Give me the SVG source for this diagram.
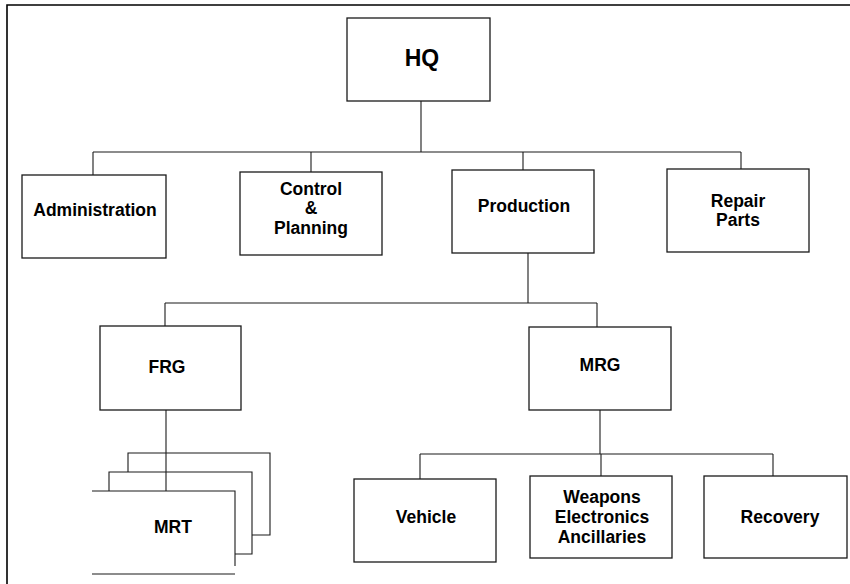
<svg xmlns="http://www.w3.org/2000/svg" width="850" height="584" viewBox="0 0 850 584">
<style>
.box{fill:#fff;stroke:#1a1a1a;stroke-width:1.3}
.ln{fill:none;stroke:#1a1a1a;stroke-width:1.1}
.t{font-family:"Liberation Sans",Arial,sans-serif;font-weight:bold;font-size:17.5px;fill:#000;text-anchor:middle}
.hq{font-size:23px}
</style>
<rect width="850" height="584" fill="#fff"/>
<path d="M7,584 V5 H850" fill="none" stroke="#000" stroke-width="1.6"/>
<g id="connectors">
<path class="ln" d="M421,101 V152"/>
<path class="ln" d="M93,152 H741"/>
<path class="ln" d="M93,152 V175"/>
<path class="ln" d="M311,152 V172"/>
<path class="ln" d="M523,152 V170"/>
<path class="ln" d="M741,152 V169"/>
<path class="ln" d="M528,253 V303"/>
<path class="ln" d="M165,303 H597"/>
<path class="ln" d="M165,303 V326"/>
<path class="ln" d="M597,303 V327"/>
<path class="ln" d="M166,410 V491"/>
<path class="ln" d="M600,410 V454"/>
<path class="ln" d="M420,454 H773"/>
<path class="ln" d="M420,454 V479"/>
<path class="ln" d="M601,454 V476"/>
<path class="ln" d="M773,454 V476"/>
</g>
<g id="hq"><rect class="box" x="347" y="18" width="143" height="83"/><text class="t hq" x="422" y="66">HQ</text></g>
<g id="administration"><rect class="box" x="22" y="175" width="144" height="83"/><text class="t" x="95" y="216">Administration</text></g>
<g id="control-planning"><rect class="box" x="240" y="172" width="142" height="83"/><text class="t" x="311" y="195">Control</text><text class="t" x="311" y="214">&amp;</text><text class="t" x="311" y="234">Planning</text></g>
<g id="production"><rect class="box" x="452" y="170" width="142" height="83"/><text class="t" x="524" y="212">Production</text></g>
<g id="repair-parts"><rect class="box" x="667" y="169" width="142" height="83"/><text class="t" x="738" y="207">Repair</text><text class="t" x="738" y="226">Parts</text></g>
<g id="frg"><rect class="box" x="100" y="326" width="141" height="84"/><text class="t" x="167" y="373">FRG</text></g>
<g id="mrg"><rect class="box" x="529" y="327" width="142" height="83"/><text class="t" x="600" y="371">MRG</text></g>
<g id="mrt">
<path class="ln" d="M128,472 V453 H270 V535 H252"/>
<path class="ln" d="M109,491 V472 H252 V554 H235"/>
<path class="ln" d="M92,491 H235 V566"/>
<path class="ln" d="M92,574 H235"/>
<text class="t" x="173" y="533">MRT</text>
</g>
<g id="vehicle"><rect class="box" x="354" y="479" width="142" height="83"/><text class="t" x="426" y="523">Vehicle</text></g>
<g id="weapons"><rect class="box" x="530" y="476" width="142" height="82"/><text class="t" x="602" y="503">Weapons</text><text class="t" x="602" y="523">Electronics</text><text class="t" x="602" y="543">Ancillaries</text></g>
<g id="recovery"><rect class="box" x="704" y="476" width="143" height="82"/><text class="t" x="780" y="523">Recovery</text></g>
</svg>
